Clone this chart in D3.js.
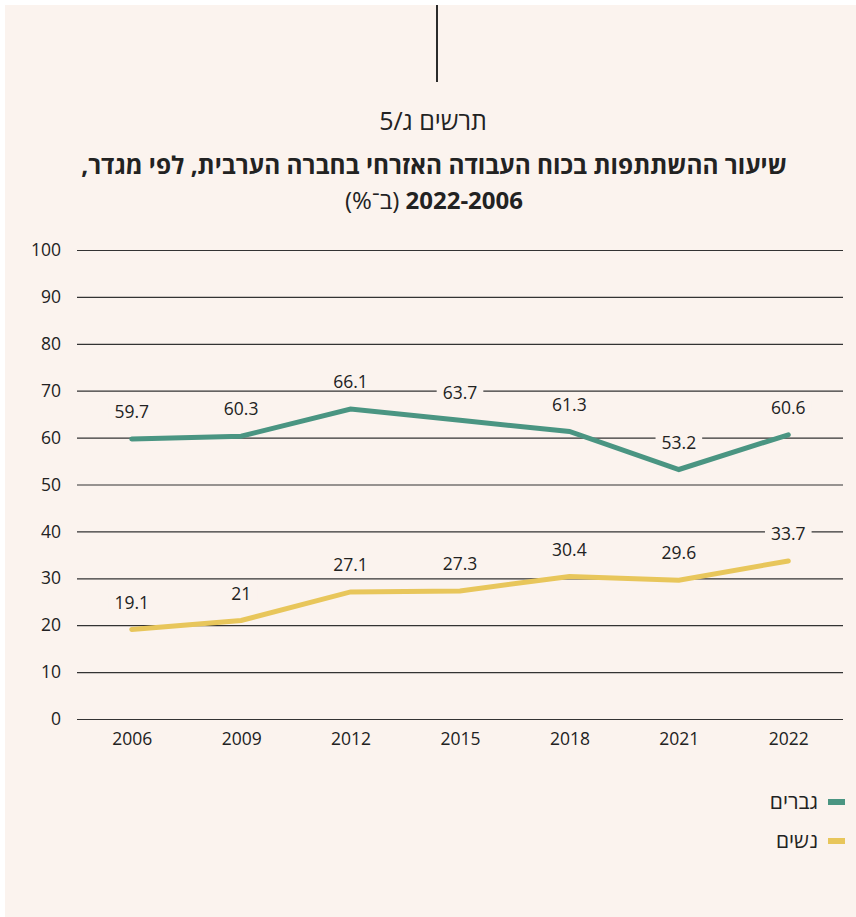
<!DOCTYPE html>
<html><head><meta charset="utf-8">
<script src="https://cdn.jsdelivr.net/npm/d3@7"></script>
<style>
html,body{margin:0;padding:0;background:#fff;}
svg text{font-family:"Open Sans","Noto Sans","DejaVu Sans",sans-serif;}
</style></head>
<body><svg id="c" width="856" height="917"></svg>
<script>
const years = ["2006","2009","2012","2015","2018","2021","2022"];
const men = [59.7,60.3,66.1,63.7,61.3,53.2,60.6];
const women = [19.1,21,27.1,27.3,30.4,29.6,33.7];
const yTicks = [0,10,20,30,40,50,60,70,80,90,100];
const seriesNames = ["גברים","נשים"];
const seriesColors = ["#4a9582","#e8c65b"];
const chartLabel = "תרשים ג/5";
const titleLine1 = "שיעור ההשתתפות בכוח העבודה האזרחי בחברה הערבית, לפי מגדר,";
const titleLine2Bold = "2022-2006";
const titleLine2Rest = " (ב־%)";

const bg = "#fbf3ee";
const svg = d3.select("#c");
svg.append("rect").attr("x",5).attr("y",5).attr("width",851).attr("height",912).attr("fill",bg);
svg.append("line").attr("x1",437).attr("x2",437).attr("y1",5).attr("y2",82).attr("stroke","#2b2b2b").attr("stroke-width",2);

svg.append("text").attr("x",433).attr("y",130).attr("text-anchor","middle").attr("direction","rtl")
  .attr("font-size",25).attr("fill","#222").text(chartLabel);
svg.append("text").attr("x",434).attr("y",174).attr("text-anchor","middle").attr("direction","rtl")
  .attr("font-size",24.4).attr("font-weight","bold").attr("fill","#222").text(titleLine1);
const t2 = svg.append("text").attr("x",434).attr("y",209).attr("text-anchor","middle").attr("direction","rtl")
  .attr("font-size",24).attr("fill","#222");
t2.append("tspan").attr("font-weight","bold").text(titleLine2Bold);
t2.append("tspan").text(titleLine2Rest);

const x = d3.scalePoint().domain(years).range([77,843]).padding(0.5);
const y = d3.scaleLinear().domain([0,100]).range([719,250]);

const gy = svg.append("g").attr("transform","translate(77,0)")
  .call(d3.axisLeft(y).tickValues(yTicks).tickSize(-766).tickPadding(16));
gy.select(".domain").remove();
gy.selectAll(".tick line").attr("stroke","#333").attr("stroke-width",1.2);
gy.selectAll(".tick text").attr("font-size",17.5).attr("fill","#222")
  .attr("font-family","'Open Sans','Noto Sans',sans-serif");

const gx = svg.append("g").attr("transform","translate(0,719)")
  .call(d3.axisBottom(x).tickSize(0).tickPadding(14));
gx.select(".domain").remove();
gx.selectAll(".tick text").attr("font-size",17.5).attr("fill","#222")
  .attr("font-family","'Open Sans','Noto Sans',sans-serif");

const line = d3.line().x((d,i)=>x(years[i])).y(d=>y(d));
[men,women].forEach((s,k)=>{
  svg.append("path").datum(s).attr("d",line).attr("fill","none")
    .attr("stroke",seriesColors[k]).attr("stroke-width",5).attr("stroke-linejoin","miter").attr("stroke-linecap","round");
});
[men,women].forEach((s,k)=>{
  const g = svg.append("g");
  s.forEach((v,i)=>{
    const lg = g.append("g");
    const cy = y(v)-27;
    const r = lg.append("rect").attr("fill",bg);
    const t = lg.append("text").attr("x",x(years[i])).attr("y",cy).attr("dy","0.35em")
      .attr("text-anchor","middle").attr("font-size",17.5).attr("fill","#222").text(String(v));
    const b = t.node().getBBox();
    r.attr("x",b.x-6).attr("y",cy-7).attr("width",b.width+12).attr("height",14);
  });
});

const lg = svg.append("g");
seriesNames.forEach((n,k)=>{
  const yy = 802 + k*39;
  lg.append("rect").attr("x",828).attr("y",yy-3).attr("width",17).attr("height",6).attr("fill",seriesColors[k]);
  lg.append("text").attr("x",818).attr("y",yy).attr("dy","0.35em").attr("text-anchor","end")
    .attr("font-size",21).attr("fill","#222").text(n);
});
</script></body></html>
